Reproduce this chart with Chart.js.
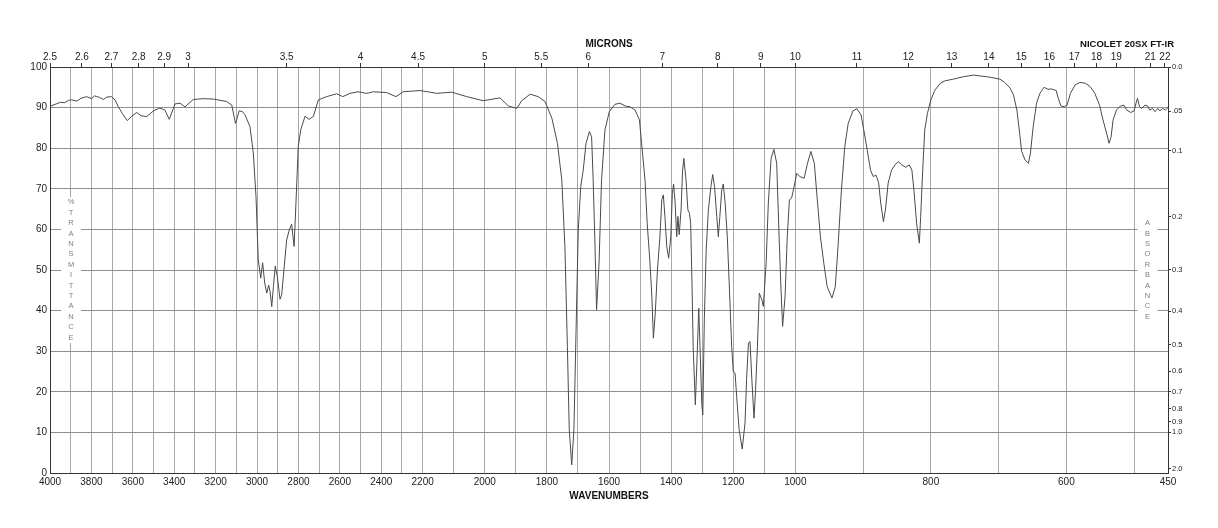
<!DOCTYPE html>
<html>
<head>
<meta charset="utf-8">
<title>IR spectrum</title>
<script src="https://cdn.jsdelivr.net/npm/chart.js"></script>
<style>
  html, body { margin: 0; padding: 0; background: #fff; }
  canvas { display: block; }
</style>
</head>
<body>
<canvas id="ir-chart" width="1218" height="528"></canvas>
<script>
// Spectrum (wavenumber in cm-1, %T)
const wavenumbers = [
  3997, 3970, 3950, 3930, 3910, 3895, 3870, 3850, 3823, 3800, 3785, 3774, 3760, 3743, 3725, 3702,
  3685, 3670, 3650, 3627, 3605, 3581, 3560, 3533, 3500, 3469, 3445, 3424, 3396, 3372, 3348, 3308,
  3260, 3211, 3147, 3122, 3104, 3086, 3070, 3058, 3034, 3018, 3005, 2994, 2982, 2973, 2963, 2953,
  2944, 2937, 2929, 2921, 2912, 2902, 2889, 2881, 2873, 2857, 2844, 2833, 2821, 2812, 2801, 2789,
  2768, 2749, 2728, 2704, 2664, 2615, 2586, 2551, 2511, 2470, 2438, 2374, 2329, 2294, 2213, 2176,
  2155, 2106, 2058, 2005, 1951, 1924, 1897, 1881, 1854, 1828, 1806, 1784, 1766, 1752, 1742, 1734,
  1728, 1720, 1713, 1706, 1699, 1691, 1683, 1674, 1663, 1656, 1651, 1645, 1640, 1632, 1624, 1613,
  1599, 1581, 1565, 1548, 1532, 1516, 1502, 1495, 1484, 1477, 1468, 1462, 1457, 1451, 1444, 1436,
  1430, 1425, 1420, 1414, 1408, 1401, 1396, 1392, 1387, 1382, 1378, 1374, 1368, 1363, 1359, 1352,
  1346, 1341, 1337, 1333, 1329, 1322, 1317, 1311, 1307, 1301, 1298, 1293, 1287, 1280, 1272, 1266,
  1260, 1253, 1248, 1243, 1237, 1232, 1226, 1219, 1213, 1205, 1200, 1194, 1189, 1181, 1171, 1162,
  1157, 1151, 1146, 1140, 1133, 1128, 1122, 1116, 1108, 1103, 1094, 1087, 1078, 1069, 1060, 1053,
  1047, 1041, 1033, 1026, 1019, 1012, 1004, 998, 993, 987, 982, 977, 972, 968, 963, 958,
  953, 946, 941, 937, 932, 927, 922, 915, 909, 903, 899, 894, 889, 885, 881, 877,
  874, 870, 867, 863, 858, 853, 848, 843, 837, 832, 828, 825, 821, 817, 815, 812,
  809, 805, 800, 794, 786, 779, 767, 752, 737, 718, 713, 698, 691, 683, 678, 673,
  669, 666, 661, 656, 653, 649, 644, 639, 633, 627, 622, 615, 612, 608, 603, 599,
  594, 587, 580, 572, 565, 558, 551, 546, 540, 537, 534, 531, 526, 520, 515, 511,
  505, 500, 497, 495, 492, 489, 484, 480, 477, 473, 469, 465, 462, 458, 454, 450
];
const transmittance = [
  90.4, 90.9, 91.3, 91.2, 91.8, 91.9, 91.6, 92.3, 92.7, 92.2, 92.9, 92.7, 92.5, 92.0, 92.6, 92.7,
  91.8, 90.2, 88.5, 86.8, 87.9, 88.8, 88.0, 87.8, 89.2, 89.9, 89.4, 87.1, 90.9, 91.1, 90.2, 92.0,
  92.2, 92.1, 91.5, 90.6, 86.1, 89.2, 89.0, 88.2, 85.3, 78.8, 68.1, 52.5, 48.0, 51.8, 46.8, 44.3,
  46.3, 44.7, 41.0, 45.9, 51.0, 48.4, 42.8, 43.9, 48.4, 57.4, 59.9, 61.3, 55.8, 66.5, 80.4, 84.5,
  87.9, 87.1, 87.8, 91.9, 92.7, 93.4, 92.7, 93.5, 93.9, 93.5, 93.9, 93.7, 92.7, 93.9, 94.2, 93.8,
  93.5, 93.8, 92.7, 91.7, 92.4, 90.4, 89.8, 91.7, 93.3, 92.7, 91.5, 87.4, 81.2, 72.2, 55.8, 31.2,
  10.7, 2.0, 10.7, 35.3, 59.9, 70.5, 74.6, 81.2, 84.1, 82.8, 72.2, 55.8, 40.2, 51.7, 72.2, 84.5,
  89.0, 90.8, 91.1, 90.4, 90.2, 89.4, 87.0, 81.2, 72.2, 61.5, 51.7, 43.5, 33.2, 39.4, 50.0, 58.2,
  67.3, 68.5, 63.2, 55.8, 52.9, 58.2, 68.9, 71.2, 66.5, 58.2, 63.2, 58.7, 64.8, 74.6, 77.5, 72.2,
  64.8, 64.0, 61.5, 47.6, 31.2, 16.8, 27.1, 40.6, 31.2, 16.8, 14.3, 38.0, 55.0, 64.8, 70.5, 73.5,
  70.5, 63.2, 58.2, 63.2, 69.7, 71.2, 66.5, 58.2, 46.8, 31.2, 25.0, 24.6, 18.9, 10.7, 5.9, 12.3,
  23.0, 32.0, 32.4, 23.0, 13.5, 20.5, 31.2, 44.3, 42.7, 41.0, 51.7, 66.5, 77.5, 79.7, 76.3, 59.9,
  46.8, 36.1, 43.5, 58.2, 67.3, 67.7, 70.5, 73.8, 73.0, 72.6, 76.3, 79.2, 76.3, 68.1, 58.2, 51.7,
  45.9, 43.1, 45.9, 55.8, 69.7, 80.4, 86.1, 89.2, 89.7, 88.2, 84.5, 79.6, 74.6, 73.0, 73.4, 71.4,
  66.5, 61.9, 64.8, 71.4, 74.6, 75.9, 76.7, 75.9, 75.3, 75.9, 74.6, 69.7, 61.5, 56.6, 63.2, 74.6,
  84.5, 88.6, 91.9, 94.3, 96.0, 96.6, 97.0, 97.6, 98.0, 97.6, 97.5, 97.0, 96.2, 94.8, 93.1, 89.4,
  83.7, 79.2, 77.1, 76.3, 78.8, 85.3, 91.1, 93.5, 95.0, 94.5, 94.6, 94.2, 92.3, 90.4, 90.2, 90.6,
  93.5, 95.6, 96.2, 96.0, 95.2, 93.5, 90.6, 87.0, 83.3, 81.2, 82.8, 87.0, 89.4, 90.4, 90.6, 89.4,
  88.8, 89.2, 91.2, 92.3, 90.2, 89.8, 90.6, 90.4, 89.4, 89.8, 89.0, 89.8, 89.2, 89.8, 89.4, 90.0
];

// Axis ticks
const gridWavenumbers = [
  4000, 3900, 3800, 3700, 3600, 3500, 3400, 3300, 3200, 3100, 3000, 2900, 2800, 2700, 2600, 2500,
  2400, 2300, 2200, 2100, 2000, 1900, 1800, 1700, 1600, 1500, 1400, 1300, 1200, 1100, 1000,
  900, 800, 700, 600, 500, 450
];
const labeledWavenumbers = [
  4000, 3800, 3600, 3400, 3200, 3000, 2800, 2600, 2400, 2200, 2000, 1800, 1600, 1400, 1200, 1000,
  800, 600, 450
];
const micronTicks = [2.5, 2.6, 2.7, 2.8, 2.9, 3, 3.5, 4, 4.5, 5, 5.5, 6, 7, 8, 9, 10, 11, 12, 13, 14, 15, 16, 17, 18, 19, 21, 22];
const micronLabels = ['2.5', '2.6', '2.7', '2.8', '2.9', '3', '3.5', '4', '4.5', '5', '5.5', '6', '7', '8', '9', '10', '11', '12', '13', '14', '15', '16', '17', '18', '19', '21', '22'];
const absorbanceTicks = [0, 0.05, 0.1, 0.2, 0.3, 0.4, 0.5, 0.6, 0.7, 0.8, 0.9, 1.0, 2.0];
const absorbanceLabels = ['0.0', '.05', '0.1', '0.2', '0.3', '0.4', '0.5', '0.6', '0.7', '0.8', '0.9', '1.0', '2.0'];

// the wavenumber axis is split in three equal stretches
const axisBreaks = [4000, 2200, 1000, 450];

function wnToFraction(v) {
  const n = axisBreaks.length - 1;
  for (let i = 0; i < n; i++) {
    const a = axisBreaks[i], b = axisBreaks[i + 1];
    if (v >= b || i === n - 1) return (i + (a - v) / (a - b)) / n;
  }
  return 1;
}

function fractionToWn(f) {
  const n = axisBreaks.length - 1;
  const i = Math.min(n - 1, Math.max(0, Math.floor(f * n)));
  const a = axisBreaks[i], b = axisBreaks[i + 1];
  return a - (f * n - i) * (a - b);
}

class WavenumberScale extends Chart.LinearScale {
  getPixelForValue(value) {
    return this.left + wnToFraction(value) * this.width;
  }
  getValueForPixel(pixel) {
    return fractionToWn((pixel - this.left) / this.width);
  }
}
WavenumberScale.id = 'wavenumber';
WavenumberScale.defaults = Chart.LinearScale.defaults;
Chart.register(WavenumberScale);

Chart.defaults.font.family = '"Liberation Sans", Arial, Helvetica, sans-serif';
Chart.defaults.color = '#222';

// stacked letters on both sides, plus the instrument name
const sideLabels = {
  id: 'sideLabels',
  beforeDatasetsDraw(chart) {
    const ctx = chart.ctx;
    const area = chart.chartArea;
    const midY = chart.scales.y.getPixelForValue(50);
    ctx.save();
    drawStack(ctx, '%TRANSMITTANCE', area.left + 21, midY, 73);
    drawStack(ctx, 'ABSORBANCE', area.right - 20.5, midY, 53);
    ctx.restore();
  },
  afterDraw(chart) {
    const ctx = chart.ctx;
    ctx.save();
    ctx.font = 'bold 9.5px "Liberation Sans", Arial, sans-serif';
    ctx.fillStyle = '#111';
    ctx.textAlign = 'right';
    ctx.textBaseline = 'middle';
    ctx.fillText('NICOLET 20SX FT-IR', chart.chartArea.right + 6, 44.5);
    ctx.restore();
  }
};

function drawStack(ctx, text, x, midY, halfHeight) {
  const step = 10.4;
  ctx.fillStyle = '#fff';
  ctx.fillRect(x - 10, midY - halfHeight, 20, halfHeight * 2);
  ctx.fillStyle = '#808080';
  ctx.font = '7.5px "Liberation Sans", Arial, sans-serif';
  ctx.textAlign = 'center';
  ctx.textBaseline = 'middle';
  const chars = text.split('');
  const top = midY - (chars.length - 1) * step / 2;
  chars.forEach((c, i) => ctx.fillText(c, x, top + i * step));
}

const points = wavenumbers.map((wn, i) => ({ x: wn, y: transmittance[i] }));

new Chart(document.getElementById('ir-chart').getContext('2d'), {
  type: 'line',
  data: {
    datasets: [{
      data: points,
      xAxisID: 'x',
      yAxisID: 'y',
      borderColor: '#4a4a4a',
      borderWidth: 1,
      pointRadius: 0,
      tension: 0,
      fill: false
    }]
  },
  options: {
    responsive: false,
    animation: false,
    events: [],
    layout: { padding: 0 },
    plugins: {
      legend: { display: false },
      tooltip: { enabled: false }
    },
    scales: {
      x: {
        type: 'wavenumber',
        position: 'bottom',
        min: 450,
        max: 4000,
        afterBuildTicks: s => { s.ticks = gridWavenumbers.map(v => ({ value: v })); },
        afterFit: s => { s.height = 55; },
        ticks: {
          autoSkip: false, maxRotation: 0, minRotation: 0, padding: 3,
          font: { size: 10 },
          callback: v => labeledWavenumbers.includes(v) ? String(v) : ''
        },
        grid: { color: '#a8a8a8', lineWidth: 1, drawTicks: false },
        border: { display: true, color: '#333', width: 1 },
        title: {
          display: true, text: 'WAVENUMBERS', color: '#111',
          font: { size: 10, weight: 'bold' },
          padding: { top: 0, bottom: 26 }
        }
      },
      x2: {
        type: 'wavenumber',
        position: 'top',
        min: 450,
        max: 4000,
        afterBuildTicks: s => { s.ticks = micronTicks.map(m => ({ value: 10000 / m })); },
        afterFit: s => { s.height = 67; },
        ticks: {
          autoSkip: false, maxRotation: 0, minRotation: 0, padding: 0,
          font: { size: 10 },
          callback: (v, i) => micronLabels[i]
        },
        grid: { drawOnChartArea: false, drawTicks: true, tickLength: 4, color: '#333' },
        border: { display: true, color: '#333', width: 1 },
        title: {
          display: true, text: 'MICRONS', color: '#111',
          font: { size: 10, weight: 'bold' },
          padding: { top: 38, bottom: 0 }
        }
      },
      y: {
        position: 'left',
        min: 0,
        max: 100,
        afterFit: s => { s.width = 50; },
        ticks: { stepSize: 10, padding: 3, font: { size: 10 } },
        grid: { color: '#8e8e8e', lineWidth: 1, drawTicks: false },
        border: { display: true, color: '#333', width: 1 }
      },
      y2: {
        position: 'right',
        min: 0,
        max: 100,
        afterBuildTicks: s => { s.ticks = absorbanceTicks.map(a => ({ value: 100 * Math.pow(10, -a) })); },
        afterFit: s => { s.width = 50; },
        ticks: {
          autoSkip: false, padding: 1,
          font: { size: 7.5 },
          callback: (v, i) => absorbanceLabels[i]
        },
        grid: { drawOnChartArea: false, drawTicks: true, tickLength: 3, color: '#333' },
        border: { display: true, color: '#333', width: 1 }
      }
    }
  },
  plugins: [sideLabels]
});
</script>
</body>
</html>
